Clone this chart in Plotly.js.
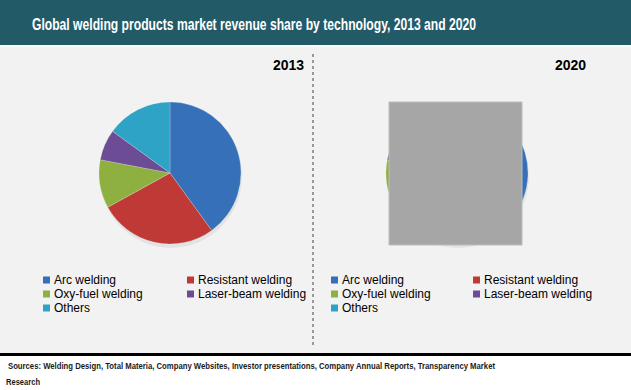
<!DOCTYPE html>
<html>
<head>
<meta charset="utf-8">
<script src="https://cdn.plot.ly/plotly-3.0.1.min.js"></script>
<style>
html,body{margin:0;padding:0;background:#f2f2f2;}
#chart{width:631px;height:390px;}
</style>
</head>
<body>
<div id="chart"></div>
<script>
// ---- data ----
var technologies = ["Arc welding", "Resistant welding", "Oxy-fuel welding", "Laser-beam welding", "Others"];
var share2013 = [40, 27, 11, 7, 15];
var share2020 = [41, 26, 11, 7, 15];
var years = ["2013", "2020"];
var chartTitle = "Global welding products market revenue share by technology, 2013 and 2020";
var sourceLines = ["Sources: Welding Design, Total Materia, Company Websites, Investor presentations, Company Annual Reports, Transparency Market", "Research"];
var sliceColors = ["#3670b8", "#bf3a37", "#8eb041", "#6b4c95", "#2fa3c5"];

// ---- helpers (pixel -> paper) ----
var W = 631, H = 390;
function X(px){ return px / W; }
function Y(py){ return 1 - py / H; }

var sans = "'Liberation Sans', Arial, sans-serif";

function pieTrace(values, cx, cy, r){
  return {
    type: "pie",
    labels: technologies,
    values: values,
    sort: false,
    direction: "clockwise",
    rotation: 0,
    textinfo: "none",
    hoverinfo: "label+percent",
    showlegend: false,
    marker: {colors: sliceColors, line: {color: "rgba(255,255,255,0.35)", width: 0.6}},
    domain: {x: [X(cx - r), X(cx + r)], y: [Y(cy + r), Y(cy - r)]}
  };
}

var data = [
  pieTrace(share2013, 170, 173, 71),
  pieTrace(share2020, 457, 173, 71)
];

var shapes = [
  {type: "rect", xref: "paper", yref: "paper", x0: 0, x1: 1, y0: Y(45), y1: 1, fillcolor: "#225a68", line: {width: 0}, layer: "below"},
  {type: "rect", xref: "paper", yref: "paper", x0: 0, x1: 1, y0: Y(47), y1: Y(45), fillcolor: "#fafafa", line: {width: 0}, layer: "below"},
  {type: "circle", xref: "paper", yref: "paper", x0: X(100), x1: X(242), y0: Y(248), y1: Y(104), fillcolor: "rgba(0,0,0,0.06)", line: {width: 0}, layer: "below"},
  {type: "circle", xref: "paper", yref: "paper", x0: X(387), x1: X(529), y0: Y(248), y1: Y(104), fillcolor: "rgba(0,0,0,0.06)", line: {width: 0}, layer: "below"},
  {type: "line", xref: "paper", yref: "paper", x0: X(313), x1: X(313), y0: Y(345), y1: Y(52), line: {color: "#404040", width: 1, dash: "3px,3px"}},
  {type: "rect", xref: "paper", yref: "paper", x0: 0, x1: 1, y0: 0, y1: Y(356), fillcolor: "#ffffff", line: {width: 0}, layer: "below"},
  {type: "rect", xref: "paper", yref: "paper", x0: 0, x1: 1, y0: Y(356), y1: Y(353), fillcolor: "#000000", line: {width: 0}},
  {type: "rect", xref: "paper", yref: "paper", x0: X(389), x1: X(522), y0: Y(245), y1: Y(102), fillcolor: "#a6a6a6", line: {color: "#bdbdbd", width: 1}, layer: "above"}
];

var annotations = [
  {name: "title", text: "<b>" + chartTitle + "</b>", xref: "paper", yref: "paper", x: X(30), y: Y(24), xanchor: "left", yanchor: "middle", showarrow: false, font: {family: sans, size: 16, color: "#ffffff"}},
  {text: "<b>" + years[0] + "</b>", xref: "paper", yref: "paper", x: X(288), y: Y(65), xanchor: "center", yanchor: "middle", showarrow: false, font: {family: sans, size: 14, color: "#000000"}},
  {text: "<b>" + years[1] + "</b>", xref: "paper", yref: "paper", x: X(570), y: Y(65), xanchor: "center", yanchor: "middle", showarrow: false, font: {family: sans, size: 14, color: "#000000"}},
  {name: "src1", text: "<b>" + sourceLines[0] + "</b>", xref: "paper", yref: "paper", x: X(6), y: Y(365), xanchor: "left", yanchor: "middle", showarrow: false, font: {family: sans, size: 9.8, color: "#1a1a1a"}},
  {name: "src2", text: "<b>" + sourceLines[1] + "</b>", xref: "paper", yref: "paper", x: X(4), y: Y(381), xanchor: "left", yanchor: "middle", showarrow: false, font: {family: sans, size: 9.8, color: "#1a1a1a"}}
];

var legendOrigins = [[43, 187], [331, 473]];
var rowY = [280, 294, 308];
legendOrigins.forEach(function(cols){
  technologies.forEach(function(name, i){
    var col = i % 2, row = Math.floor(i / 2);
    var mx = cols[col], my = rowY[row];
    shapes.push({type: "rect", xref: "paper", yref: "paper", x0: X(mx), x1: X(mx + 7), y0: Y(my + 3.5), y1: Y(my - 3.5), fillcolor: sliceColors[i], line: {width: 0}});
    annotations.push({text: name, xref: "paper", yref: "paper", x: X(mx + 9), y: Y(my), xanchor: "left", yanchor: "middle", showarrow: false, font: {family: sans, size: 12, color: "#000000"}});
  });
});

var layout = {
  width: W, height: H,
  margin: {l: 0, r: 0, t: 0, b: 0},
  paper_bgcolor: "#f2f2f2",
  plot_bgcolor: "#f2f2f2",
  showlegend: false,
  shapes: shapes,
  annotations: annotations
};

// narrow-font look: compress these texts to the widths seen in the original, keeping left edge
var targetWidths = {"title": 444, "src1": 487, "src2": 34};

Plotly.newPlot("chart", data, layout, {displayModeBar: false, staticPlot: true}).then(function(gd){
  var nodes = gd.querySelectorAll("g.annotation");
  annotations.forEach(function(a, idx){
    if (!a.name || !targetWidths[a.name]) return;
    var g = nodes[idx];
    if (!g) return;
    var t = g.querySelector("text.annotation-text");
    if (!t) return;
    var orig = t.getBBox();
    var target = targetWidths[a.name];
    t.setAttribute("textLength", target);
    t.setAttribute("lengthAdjust", "spacingAndGlyphs");
    var now = t.getBBox();
    var dx = orig.x - now.x;
    var prev = t.getAttribute("transform") || "";
    t.setAttribute("transform", "translate(" + dx + ",0) " + prev);
  });
});
</script>
</body>
</html>
